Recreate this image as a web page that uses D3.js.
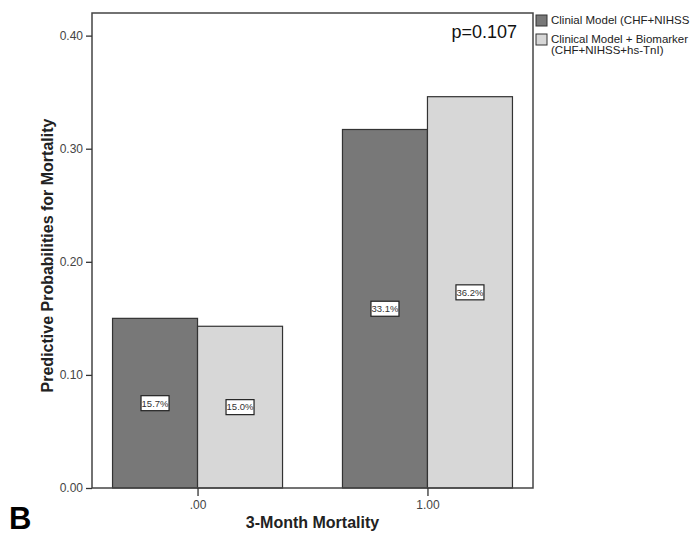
<!DOCTYPE html>
<html>
<head>
<meta charset="utf-8">
<script src="https://cdn.jsdelivr.net/npm/d3@7"></script>
<style>
  html, body { margin: 0; padding: 0; background: #fff; }
  svg { display: block; font-family: "Liberation Sans", Arial, sans-serif; }
</style>
</head>
<body>
<svg id="chart" width="692" height="535"></svg>
<script>
// ---------------------------------------------------------------------------
// Data
// ---------------------------------------------------------------------------

const categories = [".00", "1.00"];
const seriesKeys = ["clinical", "biomarker"];
const clinicalValues  = [0.150, 0.317];
const biomarkerValues = [0.143, 0.346];
const clinicalLabels  = ["15.7%", "33.1%"];
const biomarkerLabels = ["15.0%", "36.2%"];
const yTicks = [0, 0.1, 0.2, 0.3, 0.4];
const legendLines = [
    ["Clinial Model (CHF+NIHSS"],
    ["Clinical Model + Biomarker", "(CHF+NIHSS+hs-TnI)"]
];

const colors = { clinical: "#787878", biomarker: "#d7d7d7" };
const strokeColor = "#333";

// ---------------------------------------------------------------------------
// Layout
// ---------------------------------------------------------------------------

const plot = { left: 92, right: 533, top: 13, bottom: 488 };
const svg = d3.select("#chart");

const x0 = d3.scalePoint().domain(categories).range([plot.left, plot.right]).padding(0.459);
const x1 = d3.scaleBand().domain(seriesKeys).range([-85, 85]);
const y = d3.scaleLinear().domain([0, 0.42]).range([plot.bottom, plot.top]);

const rows = categories.map((c, i) => ({
    cat: c,
    bars: [
        { key: "clinical",  value: clinicalValues[i],  label: clinicalLabels[i] },
        { key: "biomarker", value: biomarkerValues[i], label: biomarkerLabels[i] }
    ]
}));

// ---------------------------------------------------------------------------
// Bars
// ---------------------------------------------------------------------------

const groups = svg.selectAll("g.group")
    .data(rows)
    .join("g")
    .attr("class", "group")
    .attr("transform", d => `translate(${x0(d.cat)},0)`);

groups.selectAll("rect.bar")
    .data(d => d.bars)
    .join("rect")
    .attr("class", "bar")
    .attr("x", d => x1(d.key))
    .attr("y", d => y(d.value))
    .attr("width", x1.bandwidth())
    .attr("height", d => y(0) - y(d.value))
    .attr("fill", d => colors[d.key])
    .attr("stroke", strokeColor)
    .attr("stroke-width", 1.2);

// value labels in boxes, centred at mid-height of each bar
const labels = groups.selectAll("g.vlabel")
    .data(d => d.bars)
    .join("g")
    .attr("class", "vlabel")
    .attr("transform", d => `translate(${x1(d.key) + x1.bandwidth() / 2},${(y(0) + y(d.value)) / 2})`);

labels.append("rect")
    .attr("x", -14).attr("y", -7.5)
    .attr("width", 28).attr("height", 15)
    .attr("fill", "#fff")
    .attr("stroke", "#222")
    .attr("stroke-width", 1.2);

labels.append("text")
    .attr("text-anchor", "middle")
    .attr("dy", "0.35em")
    .attr("font-size", "9.5px")
    .attr("fill", "#333")
    .text(d => d.label);

// ---------------------------------------------------------------------------
// Frame + axes
// ---------------------------------------------------------------------------

svg.append("rect")
    .attr("x", plot.left).attr("y", plot.top)
    .attr("width", plot.right - plot.left)
    .attr("height", plot.bottom - plot.top)
    .attr("fill", "none")
    .attr("stroke", "#444")
    .attr("stroke-width", 1.5);

const yAxis = svg.append("g")
    .attr("transform", `translate(${plot.left},0)`)
    .call(d3.axisLeft(y).tickValues(yTicks).tickFormat(d3.format(".2f")).tickSize(6).tickPadding(3));
yAxis.select(".domain").remove();
yAxis.selectAll("line").attr("stroke", "#333").attr("stroke-width", 1.3);
yAxis.selectAll("text").attr("font-size", "12px").attr("fill", "#444")
    .attr("font-family", "'Liberation Sans', Arial, sans-serif");

const xAxis = svg.append("g")
    .attr("transform", `translate(0,${plot.bottom})`)
    .call(d3.axisBottom(x0).tickSize(8).tickPadding(4));
xAxis.select(".domain").remove();
xAxis.selectAll("line").attr("stroke", "#333").attr("stroke-width", 1.3);
xAxis.selectAll("text").attr("font-size", "12px").attr("fill", "#444")
    .attr("font-family", "'Liberation Sans', Arial, sans-serif");

// axis titles
svg.append("text")
    .attr("transform", `translate(53,${(plot.top + plot.bottom) / 2 + 5}) rotate(-90)`)
    .attr("text-anchor", "middle")
    .attr("font-size", "16px")
    .attr("font-weight", "bold")
    .attr("fill", "#222")
    .text("Predictive Probabilities for Mortality");

svg.append("text")
    .attr("x", (plot.left + plot.right) / 2)
    .attr("y", 528)
    .attr("text-anchor", "middle")
    .attr("font-size", "16px")
    .attr("font-weight", "bold")
    .attr("fill", "#222")
    .text("3-Month Mortality");

// panel letter
svg.append("text")
    .attr("x", 9).attr("y", 529)
    .attr("font-size", "31px")
    .attr("font-weight", "bold")
    .attr("fill", "#000")
    .text("B");

// p-value
svg.append("text")
    .attr("x", 517).attr("y", 38)
    .attr("text-anchor", "end")
    .attr("font-size", "18px")
    .attr("fill", "#111")
    .text("p=0.107");

// ---------------------------------------------------------------------------
// Legend
// ---------------------------------------------------------------------------

const legend = svg.selectAll("g.legend")
    .data(seriesKeys)
    .join("g")
    .attr("class", "legend")
    .attr("transform", (d, i) => `translate(536,${15 + i * 19})`);

legend.append("rect")
    .attr("width", 11).attr("height", 11)
    .attr("fill", d => colors[d])
    .attr("stroke", strokeColor)
    .attr("stroke-width", 1);

legend.each(function (d, i) {
    const t = d3.select(this).append("text")
        .attr("x", 15).attr("y", 9)
        .attr("font-size", "11.5px")
        .attr("fill", "#222");
    legendLines[i].forEach((line, j) => {
        t.append("tspan").attr("x", 15).attr("dy", j === 0 ? 0 : 10.5).text(line);
    });
});
</script>
</body>
</html>
